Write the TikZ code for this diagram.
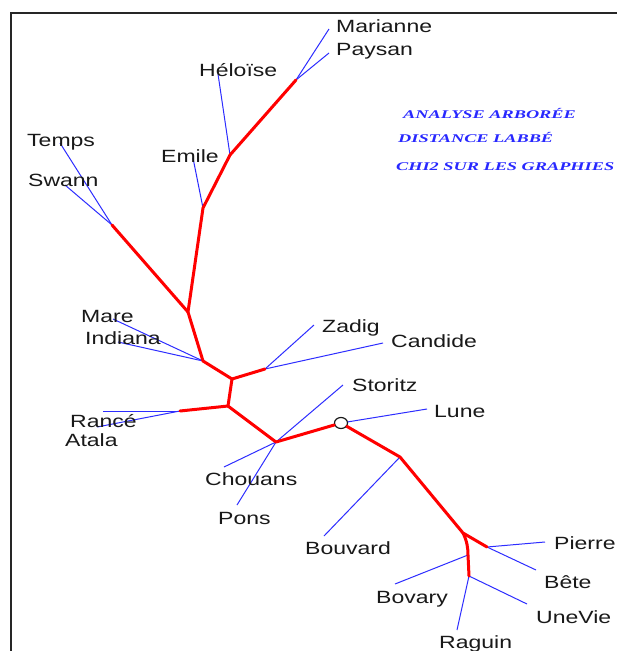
\documentclass[tikz,border=0pt]{standalone}
\usepackage{fontspec}
\setmainfont{Liberation Sans}
\newfontfamily\labfont[FakeStretch=1.3]{Liberation Sans}
\newfontfamily\titfont[FakeStretch=1.55]{Liberation Serif}
\usetikzlibrary{shapes.geometric}
\definecolor{treered}{RGB}{255,0,0}
\definecolor{leafblue}{RGB}{45,45,255}
\definecolor{txt}{RGB}{25,25,25}
\definecolor{titblue}{RGB}{40,40,255}
\begin{document}
\begin{tikzpicture}[x=1pt,y=-1pt,
  branch/.style={treered,line width=3pt,line join=round,line cap=round},
  leaf/.style={leafblue,line width=1pt},
  lab/.style={anchor=base west,inner sep=0pt,text=txt,font=\labfont\fontsize{17.7}{20}\selectfont},
  tit/.style={anchor=base west,inner sep=0pt,text=titblue,font=\titfont\bfseries\itshape\fontsize{11.8}{13}\selectfont},
  ring/.style={draw=txt,fill=white,line width=1.2pt,ellipse,minimum width=13pt,minimum height=11pt,inner sep=0pt}]
\useasboundingbox (0,0) rectangle (617,651);
\fill[white] (0,0) rectangle (617,651);
% frame
\draw[black!85,line width=2pt] (11,651) -- (11,13) -- (617,13);
% junctions
\coordinate (j1) at (296,80);
\coordinate (j2) at (230,155);
\coordinate (j3) at (203,208);
\coordinate (j4) at (188,312);
\coordinate (j5) at (112,225);
\coordinate (j6) at (203,361);
\coordinate (j7) at (232,379);
\coordinate (j8) at (265,369);
\coordinate (j9) at (228,406);
\coordinate (j10) at (180,411);
\coordinate (j11) at (276,442);
\coordinate (j13) at (400,457);
\coordinate (j14) at (463,533);
\coordinate (j15) at (487,547);
\coordinate (j16) at (468,555);
\coordinate (j17) at (469,576);
% leaf ends
\coordinate (eMarianne) at (329,29);
\coordinate (ePaysan) at (329,53);
\coordinate (eHeloise) at (218,74);
\coordinate (eEmile) at (193,158);
\coordinate (eTemps) at (60,143);
\coordinate (eSwann) at (65,185);
\coordinate (eMare) at (113,319);
\coordinate (eIndiana) at (118,342);
\coordinate (eZadig) at (314,325);
\coordinate (eCandide) at (383,343);
\coordinate (eRance) at (103,411);
\coordinate (eAtala) at (97,427);
\coordinate (eStoritz) at (343,385);
\coordinate (eLune) at (427,409);
\coordinate (eChouans) at (224,467);
\coordinate (ePons) at (237,505);
\coordinate (eBouvard) at (324,536);
\coordinate (ePierre) at (545,542);
\coordinate (eBete) at (536,570);
\coordinate (eBovary) at (395,584);
\coordinate (eUneVie) at (527,604);
\coordinate (eRaguin) at (457,630);
% blue leaves
\draw[leaf] (j1) -- (eMarianne);
\draw[leaf] (j1) -- (ePaysan);
\draw[leaf] (j2) -- (eHeloise);
\draw[leaf] (j3) -- (eEmile);
\draw[leaf] (j5) -- (eTemps);
\draw[leaf] (j5) -- (eSwann);
\draw[leaf] (j6) -- (eMare);
\draw[leaf] (j6) -- (eIndiana);
\draw[leaf] (j8) -- (eZadig);
\draw[leaf] (j8) -- (eCandide);
\draw[leaf] (j10) -- (eRance);
\draw[leaf] (j10) -- (eAtala);
\draw[leaf] (j11) -- (eStoritz);
\draw[leaf] (j11) -- (eChouans);
\draw[leaf] (j11) -- (ePons);
\draw[leaf] (j13) -- (eBouvard);
\draw[leaf] (j15) -- (ePierre);
\draw[leaf] (j15) -- (eBete);
\draw[leaf] (j16) -- (eBovary);
\draw[leaf] (j17) -- (eUneVie);
\draw[leaf] (j17) -- (eRaguin);
% ring node
\node[ring] (ring) at (341,423) {};
% red branches
\draw[branch] (j1) -- (j2) -- (j3) -- (j4) -- (j6) -- (j7) -- (j9) -- (j11) -- (ring);
\draw[branch] (j5) -- (j4);
\draw[branch] (j7) -- (j8);
\draw[branch] (j9) -- (j10);
\draw[branch] (ring) -- (j13) -- (j14) -- (j15);
\draw[branch] (j14) .. controls (467,541) and (468,548) .. (j16) -- (j17);
\draw[leaf] (ring) -- (eLune);
% labels
\node[lab] (tMarianne) at (336,32) {Marianne};
\node[lab] (tPaysan) at (336,55) {Paysan};
\node[lab] (tHeloise) at (199,76) {Héloïse};
\node[lab] (tTemps) at (27,146) {Temps};
\node[lab] (tEmile) at (161,162) {Emile};
\node[lab] (tSwann) at (28,186) {Swann};
\node[lab] (tMare) at (81,322) {Mare};
\node[lab] (tIndiana) at (85,344) {Indiana};
\node[lab] (tZadig) at (322,332) {Zadig};
\node[lab] (tCandide) at (391,347) {Candide};
\node[lab] (tStoritz) at (352,391) {Storitz};
\node[lab] (tLune) at (434,417) {Lune};
\node[lab] (tRance) at (70,427) {Rancé};
\node[lab] (tAtala) at (65,446) {Atala};
\node[lab] (tChouans) at (205,485) {Chouans};
\node[lab] (tPons) at (218,524) {Pons};
\node[lab] (tBouvard) at (305,554) {Bouvard};
\node[lab] (tPierre) at (554,549) {Pierre};
\node[lab] (tBete) at (544,588) {Bête};
\node[lab] (tBovary) at (376,603) {Bovary};
\node[lab] (tUneVie) at (536,623) {UneVie};
\node[lab] (tRaguin) at (439,648) {Raguin};
% titles
\node[tit] (t1) at (403,118) {ANALYSE ARBORÉE};
\node[tit] (t2) at (398,142) {DISTANCE LABBÉ};
\node[tit] (t3) at (396,170) {CHI2 SUR LES GRAPHIES};
\end{tikzpicture}
\end{document}
